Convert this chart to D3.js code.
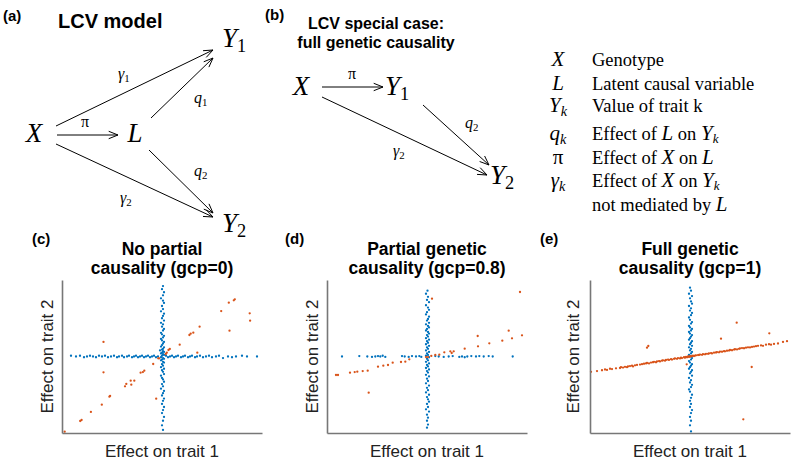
<!DOCTYPE html>
<html><head><meta charset="utf-8">
<script src="https://cdn.jsdelivr.net/npm/d3@7"></script>
<style>body{margin:0;background:#fff}</style>
</head><body>
<svg id="fig" width="800" height="464"></svg>
<script>
// ---------------- DATA ----------------
const panelLetters = ["(c)", "(d)", "(e)"];
const panelTitles = [["No partial", "causality (gcp=0)"], ["Partial genetic", "causality (gcp=0.8)"], ["Full genetic", "causality (gcp=1)"]];
const xLabel = "Effect on trait 1";
const yLabel = "Effect on trait 2";

const legendSymbols = [["X",""],["L",""],["Y","k"],["q","k"],["π",""],["γ","k"],["",""]];
const legendTexts = ["Genotype","Latent causal variable","Value of trait k","Effect of |L| on |Y_k","Effect of |X| on |L","Effect of |X| on |Y_k","not mediated by |L"];

// Panel (c): gcp = 0
const cBlueV = [[0.01,0.92],[0.00,0.88],[0.02,0.84],[0.01,0.80],[-0.01,0.76],[0.01,0.73],[0.02,0.70],[0.00,0.66],[0.01,0.62],[-0.01,0.59],[0.02,0.56],[0.01,0.53],[0.00,0.50],[0.02,0.47],[-0.01,0.44],[0.01,0.42],[0.00,0.39],[0.02,0.36],[0.01,0.34],[-0.01,0.31],[0.00,0.29],[0.02,0.27],[0.01,0.25],[-0.01,0.23],[0.00,0.21],[0.02,0.19],[0.01,0.17],[0.00,0.15],[-0.01,0.13],[0.02,0.12],[0.01,0.10],[0.00,0.09],[-0.02,0.08],[0.01,0.07],[0.02,0.06],[0.00,0.05],[-0.01,0.04],[0.01,0.03],[0.02,0.02],[0.00,0.01],[-0.01,-0.01],[0.01,-0.02],[0.02,-0.03],[0.00,-0.04],[-0.01,-0.05],[0.01,-0.07],[0.02,-0.08],[0.00,-0.10],[0.01,-0.12],[-0.01,-0.14],[0.02,-0.16],[0.00,-0.18],[0.01,-0.20],[0.02,-0.23],[-0.01,-0.25],[0.00,-0.28],[0.01,-0.30],[0.02,-0.33],[0.00,-0.36],[0.01,-0.39],[-0.01,-0.42],[0.02,-0.45],[0.01,-0.48],[0.00,-0.51],[0.02,-0.55],[0.01,-0.58],[0.00,-0.62],[0.02,-0.66],[0.01,-0.70],[0.00,-0.74],[0.02,-0.79],[0.01,-0.84],[0.00,-0.90],[0.01,-0.96]];
const cBlueH = [[-0.91,0.01],[-0.86,0.00],[-0.82,0.01],[-0.78,-0.01],[-0.75,0.00],[-0.72,0.01],[-0.69,0.00],[-0.66,-0.01],[-0.63,0.01],[-0.60,0.00],[-0.57,0.01],[-0.54,-0.01],[-0.51,0.00],[-0.48,0.01],[-0.45,-0.01],[-0.43,0.00],[-0.40,0.01],[-0.38,-0.01],[-0.35,0.00],[-0.33,0.01],[-0.30,-0.01],[-0.28,0.00],[-0.26,0.01],[-0.24,-0.01],[-0.22,0.00],[-0.20,0.01],[-0.18,-0.01],[-0.16,0.00],[-0.14,0.01],[-0.12,-0.01],[-0.10,0.00],[-0.08,0.01],[-0.06,-0.01],[-0.04,0.00],[0.04,0.01],[0.06,-0.01],[0.08,0.00],[0.10,0.01],[0.12,-0.01],[0.14,0.00],[0.16,0.01],[0.19,-0.01],[0.21,0.00],[0.23,0.01],[0.26,-0.01],[0.28,0.00],[0.30,0.01],[0.33,-0.01],[0.35,0.00],[0.38,0.01],[0.41,-0.01],[0.44,0.00],[0.47,0.01],[0.50,-0.01],[0.54,0.00],[0.57,0.01],[0.61,-0.02],[0.66,0.00],[0.70,-0.01],[0.74,0.00],[0.80,0.01],[0.85,0.00],[0.95,0.00]];
const cOrange = [[0.728,0.747],[0.718,0.734],[0.668,0.704],[0.592,0.594],[0.877,0.564],[0.881,0.468],[0.675,0.338],[0.376,0.390],[0.313,0.312],[0.287,0.298],[0.274,0.281],[0.177,0.155],[0.353,0.050],[0.078,0.098],[0.065,0.085],[0.048,0.050],[0.038,0.033],[-0.028,-0.024],[-0.038,-0.024],[-0.088,-0.098],[-0.177,-0.185],[-0.191,-0.203],[-0.214,-0.211],[-0.277,-0.316],[-0.313,-0.316],[-0.307,-0.368],[-0.357,-0.359],[-0.370,-0.390],[-0.519,-0.516],[-0.526,-0.525],[-0.602,-0.630],[-0.711,-0.725],[-0.804,-0.830],[-0.818,-0.843],[-0.973,-0.983],[-0.585,0.190],[-0.585,-0.207],[-0.058,-0.551]];

// Panel (d): gcp = 0.8
const dBlueV = [[0.005,0.86],[-0.01,0.82],[0.01,0.78],[0.00,0.74],[0.02,0.71],[-0.01,0.67],[0.01,0.64],[0.02,0.61],[0.00,0.58],[-0.01,0.55],[0.02,0.52],[0.01,0.49],[0.00,0.47],[0.02,0.44],[-0.01,0.42],[0.01,0.40],[0.02,0.38],[0.00,0.36],[-0.01,0.34],[0.01,0.32],[0.02,0.30],[0.00,0.28],[0.01,0.26],[-0.01,0.24],[0.02,0.22],[0.00,0.20],[0.01,0.18],[-0.01,0.16],[0.02,0.14],[0.00,0.12],[0.01,0.10],[-0.01,0.08],[0.02,0.06],[0.00,0.04],[0.01,0.02],[-0.01,0.01],[0.02,-0.01],[0.00,-0.03],[0.01,-0.05],[-0.01,-0.07],[0.02,-0.09],[0.00,-0.11],[0.01,-0.13],[-0.01,-0.15],[0.02,-0.17],[0.00,-0.19],[0.01,-0.21],[-0.01,-0.24],[0.02,-0.26],[0.00,-0.29],[0.01,-0.32],[-0.01,-0.35],[0.02,-0.38],[0.00,-0.41],[0.01,-0.44],[-0.01,-0.47],[0.02,-0.50],[0.00,-0.53],[0.01,-0.56],[0.02,-0.59],[0.00,-0.62],[0.01,-0.66],[-0.01,-0.69],[0.02,-0.72],[0.00,-0.76],[0.01,-0.80],[0.00,-0.84],[0.01,-0.89],[0.00,-0.93]];
const dBlueH = [[-0.85,0.00],[-0.677,0.005],[-0.597,0.00],[-0.55,-0.005],[-0.517,0.00],[-0.49,0.005],[-0.467,0.00],[-0.443,0.01],[-0.417,-0.005],[-0.25,0.005],[-0.223,0.00],[-0.183,-0.005],[-0.15,0.005],[-0.11,0.00],[-0.077,0.005],[-0.057,-0.005],[0.083,0.005],[0.117,0.00],[0.167,-0.005],[0.217,0.00],[0.257,0.005],[0.323,-0.005],[0.35,0.00],[0.377,-0.01],[0.403,0.00],[0.443,0.005],[0.49,0.00],[0.523,0.005],[0.567,0.00],[0.617,0.005],[0.657,0.00],[0.857,0.00]];
const dOrange = [[0.930,0.843],[0.050,0.756],[0.950,0.277],[0.817,0.338],[0.850,0.237],[0.753,0.207],[0.623,0.172],[0.507,0.268],[0.510,0.133],[0.377,0.102],[0.267,0.068],[0.233,0.068],[0.247,0.046],[0.173,0.054],[0.123,0.024],[0.083,0.020],[0.043,0.007],[0.010,-0.007],[-0.010,-0.007],[-0.177,-0.037],[-0.217,-0.068],[-0.260,-0.072],[-0.343,-0.081],[-0.390,-0.111],[-0.437,-0.120],[-0.490,-0.133],[-0.593,-0.185],[-0.643,-0.190],[-0.697,-0.198],[-0.723,-0.203],[-0.770,-0.211],[-0.890,-0.242],[-0.910,-0.242],[-0.583,-0.473]];

// Panel (e): gcp = 1
const eBlueV = [[0.00,0.90],[0.01,0.86],[-0.01,0.82],[0.02,0.79],[0.00,0.76],[0.01,0.72],[0.02,0.69],[-0.01,0.66],[0.01,0.63],[0.00,0.60],[0.02,0.57],[0.01,0.54],[-0.01,0.51],[0.00,0.48],[0.02,0.45],[0.01,0.43],[-0.01,0.40],[0.00,0.38],[0.02,0.36],[0.01,0.34],[-0.01,0.32],[0.00,0.30],[0.02,0.28],[0.01,0.26],[0.00,0.24],[-0.01,0.22],[0.02,0.20],[0.01,0.18],[0.00,0.16],[0.02,0.14],[-0.01,0.12],[0.01,0.10],[0.00,0.08],[0.02,0.06],[0.01,0.04],[-0.01,0.02],[0.00,0.00],[0.02,-0.02],[0.01,-0.04],[-0.01,-0.06],[0.00,-0.08],[0.02,-0.10],[0.01,-0.12],[0.00,-0.14],[-0.01,-0.16],[0.02,-0.18],[0.01,-0.20],[0.00,-0.22],[0.02,-0.25],[-0.01,-0.28],[0.01,-0.31],[0.00,-0.34],[0.02,-0.37],[0.01,-0.40],[-0.01,-0.43],[0.00,-0.46],[0.02,-0.50],[0.01,-0.54],[0.00,-0.58],[0.01,-0.62],[0.00,-0.66],[0.02,-0.70],[0.01,-0.74],[0.00,-0.79],[0.01,-0.84],[0.00,-0.90],[0.01,-0.98]];
const eBlueH = [];
const eOrange = [[-0.99,-0.20],[-0.93,-0.19],[-0.88,-0.18],[-0.85,-0.17],[-0.83,-0.175],[-0.80,-0.16],[-0.78,-0.165],[-0.74,-0.155],[-0.70,-0.15],[-0.69,-0.14],[-0.67,-0.145],[-0.65,-0.135],[-0.63,-0.14],[-0.62,-0.13],[-0.60,-0.125],[-0.58,-0.12],[-0.57,-0.13],[-0.55,-0.115],[-0.53,-0.11],[-0.50,-0.105],[-0.48,-0.10],[-0.46,-0.095],[-0.44,-0.09],[-0.43,-0.085],[-0.41,-0.09],[-0.39,-0.08],[-0.37,-0.075],[-0.36,-0.07],[-0.34,-0.075],[-0.33,-0.065],[-0.31,-0.06],[-0.30,-0.065],[-0.28,-0.055],[-0.27,-0.05],[-0.25,-0.055],[-0.24,-0.045],[-0.22,-0.04],[-0.21,-0.045],[-0.19,-0.035],[-0.18,-0.04],[-0.16,-0.03],[-0.15,-0.025],[-0.13,-0.03],[-0.12,-0.02],[-0.10,-0.025],[-0.09,-0.015],[-0.08,-0.02],[-0.06,-0.01],[-0.05,-0.015],[-0.04,-0.005],[-0.03,-0.01],[-0.02,0.0],[-0.01,-0.005],[0.0,0.005],[0.01,0.0],[0.02,0.005],[0.03,0.01],[0.04,0.005],[0.05,0.012],[0.06,0.015],[0.08,0.018],[0.09,0.02],[0.10,0.025],[0.12,0.022],[0.13,0.03],[0.15,0.028],[0.16,0.035],[0.18,0.035],[0.19,0.04],[0.21,0.045],[0.22,0.04],[0.24,0.05],[0.26,0.052],[0.27,0.058],[0.29,0.055],[0.30,0.065],[0.32,0.062],[0.34,0.07],[0.35,0.068],[0.37,0.075],[0.39,0.078],[0.40,0.085],[0.42,0.082],[0.44,0.09],[0.45,0.095],[0.47,0.092],[0.49,0.10],[0.50,0.105],[0.52,0.11],[0.54,0.108],[0.56,0.115],[0.58,0.12],[0.60,0.118],[0.62,0.125],[0.64,0.13],[0.66,0.135],[0.68,0.14],[0.71,0.145],[0.73,0.14],[0.76,0.155],[0.79,0.16],[0.81,0.155],[0.84,0.165],[0.88,0.17],[0.93,0.19],[0.97,0.20],[0.467,0.442],[0.793,0.303],[0.310,0.233],[-0.417,0.137],[-0.43,0.115],[0.617,-0.137],[0.533,-0.821],[-0.033,-0.102]];

// ---------------- DRAW ----------------
const BLUE = "#0072BD", ORANGE = "#D95319";
const SANS = "'Liberation Sans', Arial, Helvetica, sans-serif";
const SERIF = "'Liberation Serif', 'Times New Roman', serif";
const svg = d3.select("#fig");

function boldText(x, y, str, size, anchor) {
  svg.append("text").attr("x", x).attr("y", y).attr("font-family", SANS)
    .attr("font-weight", "bold").attr("font-size", size)
    .attr("text-anchor", anchor || "start").attr("fill", "#000").text(str);
}

function mathText(x, y, base, sub, size, anchor, italicBase) {
  const t = svg.append("text").attr("x", x).attr("y", y).attr("font-family", SERIF)
    .attr("font-size", size).attr("text-anchor", anchor || "start").attr("fill", "#000");
  t.append("tspan").attr("font-style", italicBase === false ? "normal" : "italic").text(base);
  if (sub) {
    const isDigit = /\d/.test(sub);
    t.append("tspan").attr("font-size", size * 0.68).attr("dy", size * 0.2)
      .attr("font-style", isDigit ? "normal" : "italic").text(sub);
  }
  return t;
}

function arrow(x1, y1, x2, y2) {
  const a = Math.atan2(y2 - y1, x2 - x1), L = 10, s = 0.38;
  const p = d3.path();
  p.moveTo(x1, y1); p.lineTo(x2, y2);
  p.moveTo(x2 - L * Math.cos(a - s), y2 - L * Math.sin(a - s)); p.lineTo(x2, y2);
  p.lineTo(x2 - L * Math.cos(a + s), y2 - L * Math.sin(a + s));
  svg.append("path").attr("d", p.toString()).attr("fill", "none")
    .attr("stroke", "#000").attr("stroke-width", 1);
}

// Panel (a)
boldText(3, 21, "(a)", 15);
boldText(58, 28, "LCV model", 20);
mathText(34, 142, "X", "", 27, "middle");
mathText(135, 142, "L", "", 27, "middle");
mathText(222, 47, "Y", "1", 27);
mathText(222, 232, "Y", "2", 27);
arrow(57, 135, 118, 135);
arrow(56, 126, 213, 50);
arrow(151, 118, 213, 58);
arrow(149, 150, 213, 213);
arrow(56, 144, 213, 217);
mathText(85, 127, "π", "", 16, "middle", false);
mathText(118, 79, "γ", "1", 16);
mathText(194, 103, "q", "1", 16);
mathText(194, 176, "q", "2", 16);
mathText(120, 203, "γ", "2", 16);

// Panel (b)
boldText(265, 20, "(b)", 15);
boldText(376, 29, "LCV special case:", 16, "middle");
boldText(376, 48, "full genetic causality", 16, "middle");
mathText(301, 95, "X", "", 27, "middle");
mathText(385, 95, "Y", "1", 27);
mathText(490, 184, "Y", "2", 27);
arrow(322, 87, 383, 87);
arrow(322, 97, 487, 175);
arrow(423, 105, 489, 165);
mathText(352, 79, "π", "", 16, "middle", false);
mathText(393, 156, "γ", "2", 16);
mathText(465, 128, "q", "2", 16);

// Legend
const legendY = [66, 90, 112, 140, 164, 187, 211];
legendSymbols.forEach((s, i) => {
  if (s[0]) mathText(558, legendY[i], s[0], s[1], 21, "middle", s[0] !== "π");
});
legendTexts.forEach((str, i) => {
  const t = svg.append("text").attr("x", 592).attr("y", legendY[i]).attr("font-family", SERIF)
    .attr("font-size", 18.5).attr("fill", "#000");
  str.split("|").forEach((part, j) => {
    if (j % 2 === 0) { t.append("tspan").text(part); }
    else {
      const [b, sb] = part.split("_");
      t.append("tspan").attr("font-style", "italic").attr("font-size", 21).text(b);
      if (sb) {
        t.append("tspan").attr("font-style", "italic").attr("font-size", 13).attr("dy", 3).text(sb);
      }
    }
  });
});

// Scatter panels
const panels = [
  {x0: 62, x1: 262, letterX: 32, ylx: 53, sets: [[cBlueH, BLUE], [cBlueV, BLUE], [cOrange, ORANGE]]},
  {x0: 327, x1: 527, letterX: 285, ylx: 318, sets: [[dBlueH, BLUE], [dBlueV, BLUE], [dOrange, ORANGE]]},
  {x0: 590, x1: 790, letterX: 540, ylx: 579, sets: [[eBlueV, BLUE], [eBlueH, BLUE], [eOrange, ORANGE]]}
];
const yTop = 280, yBot = 433;
panels.forEach((p, i) => {
  const x = d3.scaleLinear().domain([-1, 1]).range([p.x0, p.x1]);
  const y = d3.scaleLinear().domain([-1, 1]).range([yBot, yTop]);
  const cx = (p.x0 + p.x1) / 2;
  boldText(p.letterX, 244, panelLetters[i], 15);
  boldText(cx, 255, panelTitles[i][0], 17.5, "middle");
  boldText(cx, 274, panelTitles[i][1], 17.5, "middle");
  const g = svg.append("g");
  p.sets.forEach(([data, col]) => {
    g.selectAll(null).data(data).enter().append("circle")
      .attr("cx", d => x(d[0])).attr("cy", d => y(d[1])).attr("r", 1.15).attr("fill", col);
  });
  const ax = d3.axisBottom(x).tickValues([]).tickSizeOuter(0);
  const ay = d3.axisLeft(y).tickValues([]).tickSizeOuter(0);
  const gx = svg.append("g").attr("transform", `translate(0,${yBot})`).call(ax);
  const gy = svg.append("g").attr("transform", `translate(${p.x0},0)`).call(ay);
  [gx, gy].forEach(a => a.select(".domain").attr("stroke", "#777").attr("stroke-width", 1.6));
  svg.append("text").attr("x", cx).attr("y", 457).attr("text-anchor", "middle")
    .attr("font-family", SANS).attr("font-size", 17).attr("fill", "#222").text(xLabel);
  svg.append("text").attr("transform", `translate(${p.ylx},${(yTop + yBot) / 2}) rotate(-90)`)
    .attr("text-anchor", "middle").attr("font-family", SANS).attr("font-size", 17)
    .attr("fill", "#222").text(yLabel);
});
</script>
</body></html>
